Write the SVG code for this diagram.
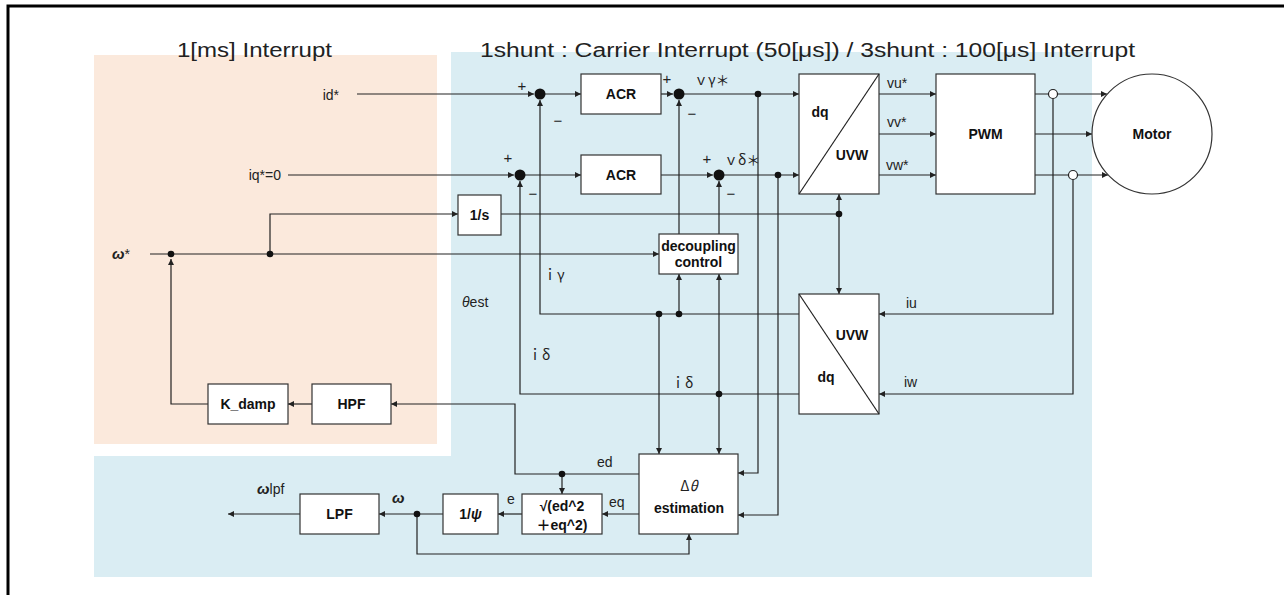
<svg xmlns="http://www.w3.org/2000/svg" width="1284" height="595" viewBox="0 0 1284 595">
<defs>
<marker id="ar" markerUnits="userSpaceOnUse" markerWidth="7" markerHeight="7" refX="6" refY="3" orient="auto">
<path d="M0,0 L6,3 L0,6 z" fill="#222"/>
</marker>
<style>
.ln{fill:none;stroke:#222;stroke-width:1.2}
.la{fill:none;stroke:#222;stroke-width:1.2;marker-end:url(#ar)}
.bx{fill:#fff;stroke:#333;stroke-width:1.2}
.dot{fill:#111}
.oc{fill:#fff;stroke:#222;stroke-width:1.2}
.t{font-family:'Liberation Sans','Noto Sans CJK JP',sans-serif;fill:#222}
.lb{font-family:'Liberation Sans','Noto Sans CJK JP',sans-serif;font-size:14px;fill:#222}
.cj{font-family:'Noto Sans CJK JP',sans-serif;font-size:14px;fill:#222}
.bb{font-family:'Liberation Sans','Noto Sans CJK JP',sans-serif;font-size:14px;font-weight:bold;fill:#111;text-anchor:middle}
.sg{font-family:'Liberation Sans',sans-serif;font-size:15px;fill:#222;text-anchor:middle}
.gr{font-weight:bold;font-style:italic}
</style>
</defs>
<rect x="8" y="6" width="1400" height="700" fill="#fff" stroke="#000" stroke-width="3"/>
<rect x="94" y="55" width="343" height="389" fill="#FBE9DC"/>
<path d="M451,52 H1092 V577 H94 V456 H451 Z" fill="#DAEDF3"/>
<text class="t" x="177" y="57" font-size="20" textLength="155" lengthAdjust="spacingAndGlyphs">1[ms] Interrupt</text>
<text class="t" x="480" y="57" font-size="20" textLength="655" lengthAdjust="spacingAndGlyphs">1shunt : Carrier Interrupt (50[μs]) / 3shunt : 100[μs]  Interrupt</text>

<g id="connectors">
<path class="la" d="M357,94 H534"/>
<path class="la" d="M288,175 H514"/>
<path class="la" d="M545,94 H581"/>
<path class="la" d="M525,175 H581"/>
<path class="la" d="M661,94 H673"/>
<path class="la" d="M661,175 H713"/>
<path class="la" d="M684,94 H799"/>
<path class="la" d="M724,175 H799"/>
<path class="la" d="M799,314 H540 V100"/>
<path class="la" d="M799,394 H520 V181"/>
<path class="la" d="M679,234 V100"/>
<path class="la" d="M719,234 V181"/>
<path class="la" d="M679,314 V274"/>
<path class="la" d="M719,394 V274"/>
<path class="la" d="M719,394 V454"/>
<path class="la" d="M659,314 V454"/>
<path class="la" d="M758,94 V473 H738"/>
<path class="la" d="M778,175 V515 H738"/>
<path class="la" d="M879,94 H936"/>
<path class="la" d="M879,134 H936"/>
<path class="la" d="M879,175 H936"/>
<path class="la" d="M1035,94 H1107"/>
<path class="la" d="M1035,134 H1092"/>
<path class="la" d="M1035,175 H1108"/>
<path class="la" d="M1053,98.5 V314 H879"/>
<path class="la" d="M1073,179.5 V394 H879"/>
<path class="la" d="M150,254 H659"/>
<path class="la" d="M270,254 V214 H458"/>
<path class="ln" d="M501,214 H839"/>
<path class="la" d="M839,214 V194"/>
<path class="la" d="M839,214 V294"/>
<path class="la" d="M208,404 H171 V259"/>
<path class="la" d="M312,404 H288"/>
<path class="la" d="M639,474 H515 V404 H391"/>
<path class="la" d="M562,474 V494"/>
<path class="la" d="M639,514 H602"/>
<path class="la" d="M522,514 H498"/>
<path class="la" d="M443,514 H379"/>
<path class="la" d="M417,514 V554 H689 V534"/>
<path class="la" d="M300,514 H228"/>
<circle class="dot" cx="171" cy="254" r="3.3"/>
<circle class="dot" cx="270" cy="254" r="3.3"/>
<circle class="dot" cx="758" cy="94" r="3.3"/>
<circle class="dot" cx="778" cy="175" r="3.3"/>
<circle class="dot" cx="839" cy="214" r="3.3"/>
<circle class="dot" cx="659" cy="314" r="3.3"/>
<circle class="dot" cx="679" cy="314" r="3.3"/>
<circle class="dot" cx="719" cy="394" r="3.3"/>
<circle class="dot" cx="562" cy="474" r="3.3"/>
<circle class="dot" cx="417" cy="514" r="3.3"/>
<circle class="oc" cx="1053" cy="94" r="4.5"/>
<circle class="oc" cx="1073" cy="175" r="4.5"/>
</g>

<g id="sum1"><circle class="dot" cx="540" cy="94" r="5.5"/><text class="sg" x="522" y="91">+</text><text class="sg" x="558" y="126">−</text></g>
<g id="sum2"><circle class="dot" cx="520" cy="175" r="5.5"/><text class="sg" x="508" y="163">+</text><text class="sg" x="533" y="199">−</text></g>
<g id="sum3"><circle class="dot" cx="679" cy="94" r="5.5"/><text class="sg" x="667" y="84">+</text><text class="sg" x="692" y="119">−</text></g>
<g id="sum4"><circle class="dot" cx="719" cy="175" r="5.5"/><text class="sg" x="707" y="164">+</text><text class="sg" x="731" y="199">−</text></g>

<g id="acr1"><rect class="bx" x="581" y="74" width="80" height="40"/><text class="bb" x="621" y="99" font-size="15">ACR</text></g>
<g id="acr2"><rect class="bx" x="581" y="155" width="80" height="39"/><text class="bb" x="621" y="180" font-size="15">ACR</text></g>
<g id="integrator"><rect class="bx" x="458" y="195" width="43" height="40"/><text class="bb" x="479.5" y="220" font-size="15">1/s</text></g>
<g id="decoupling"><rect class="bx" x="659" y="234" width="79" height="40"/><text class="bb" x="698.5" y="251" font-size="12">decoupling</text><text class="bb" x="698.5" y="267" font-size="12">control</text></g>
<g id="dq2uvw"><rect class="bx" x="799" y="74" width="80" height="120"/><path class="ln" d="M799,194 L879,74"/><text class="bb" x="820" y="117">dq</text><text class="bb" x="852" y="160" font-size="15">UVW</text></g>
<g id="uvw2dq"><rect class="bx" x="799" y="294" width="80" height="120"/><path class="ln" d="M799,294 L879,414"/><text class="bb" x="852" y="340" font-size="15">UVW</text><text class="bb" x="826" y="382">dq</text></g>
<g id="pwm"><rect class="bx" x="936" y="74" width="99" height="120"/><text class="bb" x="985.5" y="139" font-size="15">PWM</text></g>
<g id="motor"><circle class="bx" cx="1152" cy="134" r="60"/><text class="bb" x="1152" y="139" font-size="15">Motor</text></g>
<g id="kdamp"><rect class="bx" x="208" y="384" width="80" height="40"/><text class="bb" x="248" y="409">K_damp</text></g>
<g id="hpf"><rect class="bx" x="312" y="384" width="79" height="40"/><text class="bb" x="351.5" y="409" font-size="15">HPF</text></g>
<g id="estimation"><rect class="bx" x="639" y="454" width="99" height="80"/><text class="cj" x="689" y="491" text-anchor="middle" font-size="16">Δ<tspan font-style="italic">θ</tspan></text><text class="bb" x="689" y="513">estimation</text></g>
<g id="sqrt"><rect class="bx" x="522" y="494" width="80" height="40"/><text class="bb" x="562" y="511" font-size="15" font-family="'Noto Sans CJK JP',sans-serif">√(ed^2</text><text class="bb" x="562" y="530" font-size="15" font-family="'Noto Sans CJK JP',sans-serif">＋eq^2)</text></g>
<g id="invpsi"><rect class="bx" x="443" y="494" width="55" height="40"/><text class="bb" x="470.5" y="519" font-size="15">1/<tspan class="gr">ψ</tspan></text></g>
<g id="lpf"><rect class="bx" x="300" y="494" width="79" height="40"/><text class="bb" x="339.5" y="519" font-size="15">LPF</text></g>

<g id="labels">
<text class="lb" x="339" y="100" text-anchor="end">id*</text>
<text class="lb" x="281" y="180" text-anchor="end">iq*=0</text>
<text class="lb" x="112" y="259"><tspan class="gr" font-size="15">ω</tspan>*</text>
<text class="cj" x="694" y="85">ｖγ＊</text>
<text class="cj" x="724" y="165">ｖδ＊</text>
<text class="lb" x="887" y="88">vu*</text>
<text class="lb" x="887" y="127">vv*</text>
<text class="lb" x="886" y="170">vw*</text>
<text class="lb" x="462" y="307"><tspan font-style="italic">θ</tspan>est</text>
<text class="cj" x="543" y="280">ｉγ</text>
<text class="cj" x="528" y="360">ｉδ</text>
<text class="cj" x="671" y="388">ｉδ</text>
<text class="lb" x="906" y="308">iu</text>
<text class="lb" x="904" y="387">iw</text>
<text class="lb" x="597" y="467">ed</text>
<text class="lb" x="609" y="507">eq</text>
<text class="lb" x="507" y="504">e</text>
<text class="lb" x="392" y="503"><tspan class="gr" font-size="15">ω</tspan></text>
<text class="lb" x="257" y="494"><tspan class="gr" font-size="15">ω</tspan>lpf</text>
</g>
</svg>
